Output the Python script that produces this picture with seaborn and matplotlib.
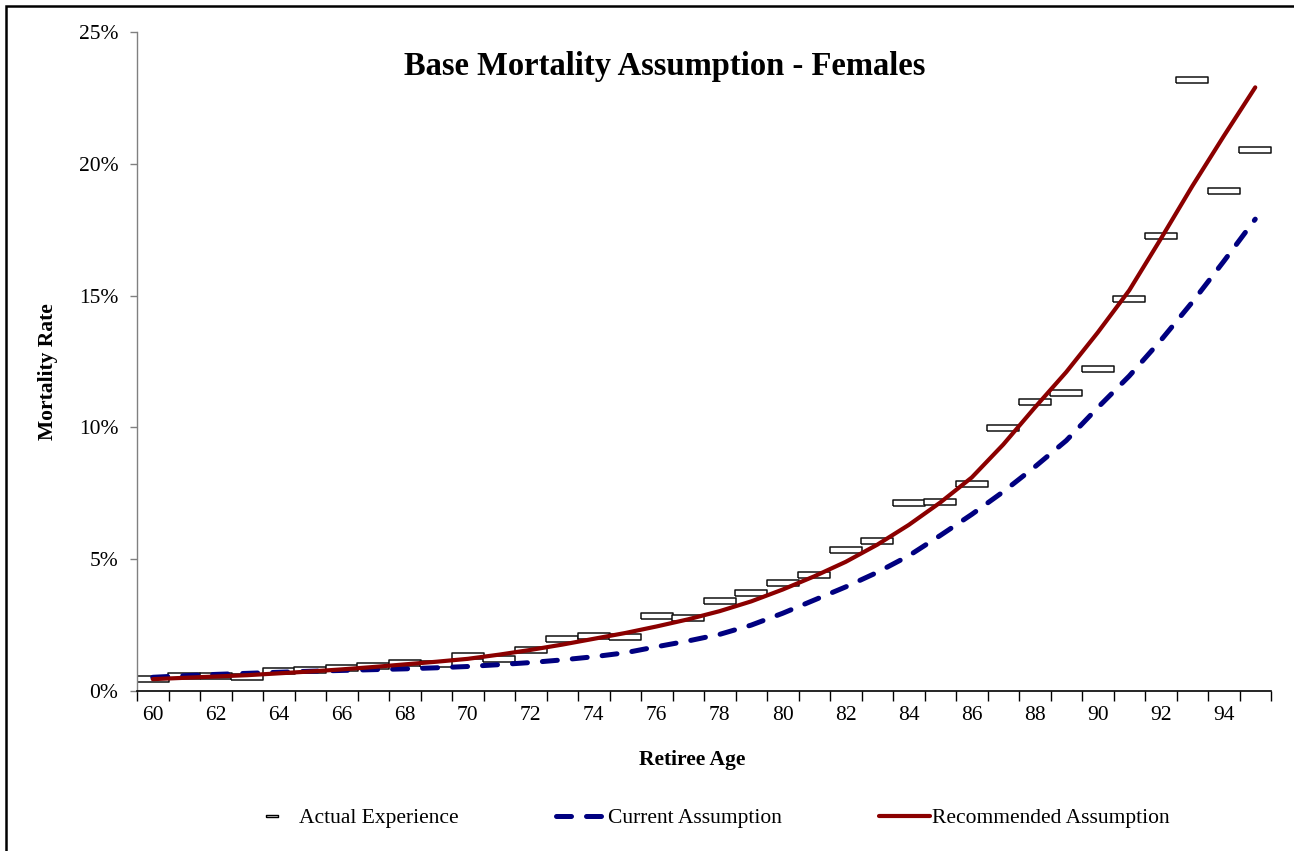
import numpy as np
import pandas as pd
import matplotlib
matplotlib.use("Agg")
import matplotlib.pyplot as plt
import seaborn as sns
from matplotlib.lines import Line2D
from matplotlib.patches import Rectangle
from matplotlib.ticker import FixedLocator, FuncFormatter

# Data (mortality rates in %)
ages = list(range(60, 96))
actual = [0.47, 0.56, 0.58, 0.55, 0.77, 0.80, 0.88, 0.94, 1.06, 1.02,
          1.31, 1.20, 1.57, 1.98, 2.09, 2.05, 2.85, 2.76, 3.40, 3.71,
          4.11, 4.40, 5.34, 5.69, 7.13, 7.16, 7.84, 9.97, 10.95, 11.32,
          12.20, 14.88, 17.26, 23.18, 18.96, 20.53]
current = [0.52, 0.58, 0.63, 0.67, 0.71, 0.75, 0.78, 0.81, 0.84, 0.88,
           0.93, 1.00, 1.08, 1.18, 1.30, 1.45, 1.68, 1.90, 2.15, 2.50,
           2.95, 3.45, 3.95, 4.50, 5.13, 5.90, 6.70, 7.56, 8.50, 9.50,
           10.75, 11.95, 13.30, 14.75, 16.30, 17.90]
recommended = [0.45, 0.50, 0.55, 0.60, 0.67, 0.74, 0.82, 0.91, 1.01, 1.11,
               1.22, 1.38, 1.56, 1.76, 1.98, 2.20, 2.45, 2.72, 3.03, 3.40,
               3.85, 4.35, 4.90, 5.55, 6.30, 7.15, 8.10, 9.35, 10.75, 12.10,
               13.60, 15.20, 17.15, 19.15, 21.05, 22.90]

df = pd.DataFrame({"age": ages,
                   "actual": np.array(actual) / 100,
                   "current": np.array(current) / 100,
                   "recommended": np.array(recommended) / 100})

sns.set_style("white")
plt.rcParams["font.family"] = ["Liberation Serif", "DejaVu Serif"]
plt.rcParams["text.color"] = "black"
plt.rcParams["axes.labelcolor"] = "black"
plt.rcParams["xtick.color"] = "black"
plt.rcParams["ytick.color"] = "black"

fig = plt.figure(figsize=(12.94, 8.51), dpi=100)
ax = fig.add_axes([137 / 1294, 1 - 691 / 851, (1271 - 137) / 1294, (691 - 32) / 851])

# wide flat box marker for actual experience
box = [(-1, -0.2), (1, -0.2), (1, 0.2), (-1, 0.2), (-1, -0.2)]
sns.scatterplot(data=df, x="age", y="actual", marker=box, s=23 ** 2,
                facecolor="white", edgecolor="#111111", linewidth=1.1,
                ax=ax, zorder=2, legend=False)
sns.lineplot(data=df, x="age", y="current", color="#000080", linewidth=3.6,
             ax=ax, zorder=3, legend=False)
ax.lines[-1].set_dashes([3.0, 3.0])
ax.lines[-1].set_dash_capstyle("round")
sns.lineplot(data=df, x="age", y="recommended", color="#8B0000", linewidth=3.0,
             ax=ax, zorder=4, legend=False)

ax.set_xlim(59.5, 95.5)
ax.set_ylim(0, 0.25)

# x ticks at category boundaries, labels on even ages
ax.xaxis.set_major_locator(FixedLocator(np.arange(59.5, 96, 1)))
ax.xaxis.set_major_formatter(FuncFormatter(lambda v, p: ""))
ax.xaxis.set_minor_locator(FixedLocator(ages[::2]))
ax.xaxis.set_minor_formatter(FuncFormatter(lambda v, p: f"{int(round(v))}"))
ax.tick_params(axis="x", which="major", direction="out", length=7, width=1, color="black", bottom=True)
ax.tick_params(axis="x", which="minor", length=0, pad=11, labelsize=15.5)

ax.yaxis.set_major_locator(FixedLocator([0, 0.05, 0.10, 0.15, 0.20, 0.25]))
ax.yaxis.set_major_formatter(FuncFormatter(lambda v, p: f"{v * 100:.0f}%"))
ax.tick_params(axis="y", direction="out", length=5, width=1, color="#808080",
               labelcolor="black", labelsize=15.5, pad=8.5, left=True)

for s in ["top", "right"]:
    ax.spines[s].set_visible(False)
ax.spines["left"].set_color("#808080")
ax.spines["left"].set_linewidth(1)
ax.spines["bottom"].set_color("black")
ax.spines["bottom"].set_linewidth(1.2)

ax.set_xlabel("")
ax.set_ylabel("")

fig.text(665 / 1294, 1 - 66 / 851, "Base Mortality Assumption - Females",
         ha="center", va="center", fontsize=23.5, fontweight="bold")
fig.text(48 / 1294, 1 - 372 / 851, "Mortality Rate", rotation=90,
         ha="center", va="center", fontsize=15.5, fontweight="bold")
fig.text(692 / 1294, 1 - 760 / 851, "Retiree Age",
         ha="center", va="center", fontsize=15.5, fontweight="bold")

handles = [
    Line2D([], [], linestyle="none", marker=box, markersize=9,
           markerfacecolor="white", markeredgecolor="black", markeredgewidth=1),
    Line2D([], [], color="#000080", linewidth=3.6, dashes=[3.0, 3.0], dash_capstyle="round"),
    Line2D([], [], color="#8B0000", linewidth=3.0),
]
labels = ["Actual Experience", "Current Assumption", "Recommended Assumption"]
fig.legend(handles, labels, loc="center", bbox_to_anchor=(708 / 1294, 1 - 818 / 851),
           ncol=3, frameon=False, fontsize=15.5, handlelength=2.35,
           handletextpad=0.1, columnspacing=4.5)

# outer frame of the chart area
fig.patches.append(Rectangle((6 / 1294, -0.05), 1.2, 1 - 6 / 851 + 0.05,
                             transform=fig.transFigure, fill=False,
                             edgecolor="black", linewidth=1.8))

fig.savefig("out.png", dpi=100)
